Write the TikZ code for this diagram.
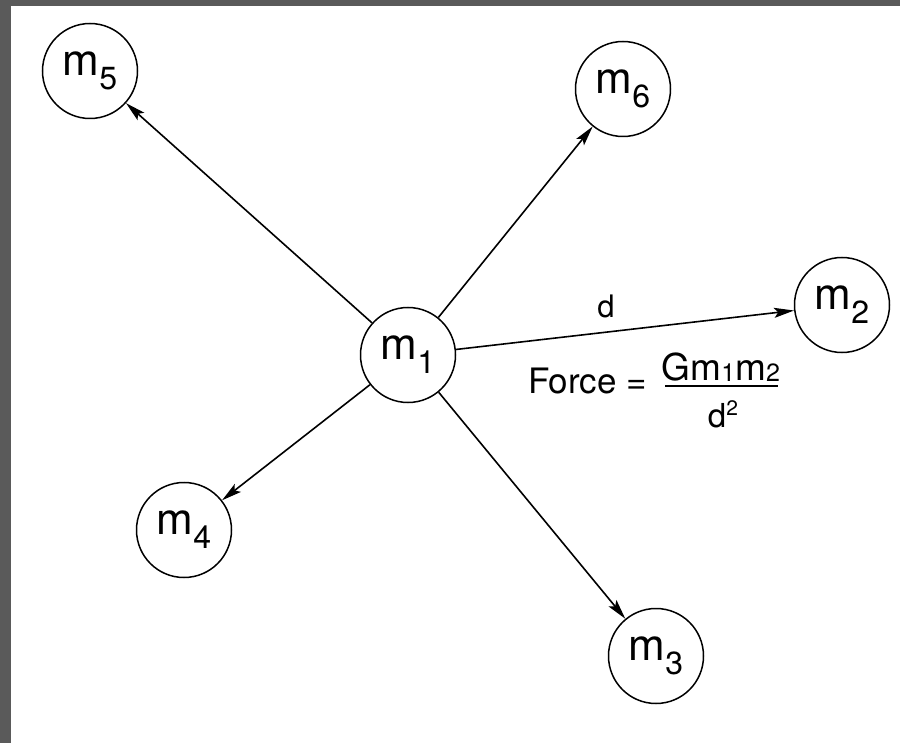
\documentclass[tikz,border=0pt]{standalone}
\usepackage{fontspec}
\setmainfont{TeX Gyre Heros}
\usetikzlibrary{arrows.meta}
\definecolor{frameGray}{RGB}{90,90,90}
% mass label: letter m with a lowered digit
\newcommand\masslbl[1]{m\raisebox{-14pt}{\fontsize{32}{32}\selectfont #1}}
\newcommand\fsub[1]{\raisebox{-1pt}{\fontsize{25}{25}\selectfont #1}}
\tikzset{
  mass/.style={circle, draw, line width=1.5pt, minimum size=95pt, inner sep=0pt,
    font=\fontsize{44}{44}\selectfont},
  pull/.style={line width=1.6pt, -{Stealth[length=20pt,width=10pt,inset=4pt]}},
  lbl/.style={inner sep=0pt, font=\fontsize{35}{35}\selectfont},
  fracbar/.style={line width=1.6pt}
}
\begin{document}
\begin{tikzpicture}[x=1pt,y=-1pt]
  % page and frame strips
  \fill[white] (0,0) rectangle (900,743);
  \fill[frameGray] (0,0) rectangle (11,743);
  \fill[frameGray] (0,0) rectangle (900,6);
  \useasboundingbox (0,0) rectangle (900,743);

  % masses
  \node[mass] (m1) at (408,355) {\masslbl{1}};
  \node[mass] (m2) at (842,305) {\masslbl{2}};
  \node[mass] (m3) at (656,656) {\masslbl{3}};
  \node[mass] (m4) at (184,530) {\masslbl{4}};
  \node[mass] (m5) at (90,71)   {\masslbl{5}};
  \node[mass] (m6) at (623,89)  {\masslbl{6}};

  % forces from m1
  \foreach \k in {2,3,4,5,6} \draw[pull] (m1) -- (m\k);

  % distance label
  \node[inner sep=0pt, anchor=base, font=\fontsize{31}{31}\selectfont] (dist) at (606,318) {d};

  % force law
  \node[lbl, anchor=base west] (force) at (528,393) {Force =};
  \node[lbl, anchor=base, font=\fontsize{37}{37}\selectfont] (num) at (721,381) {Gm\fsub{1}m\fsub{2}};
  \coordinate (barL) at (665,386);
  \coordinate (barR) at (778,386);
  \draw[fracbar] (barL) -- (barR);
  \node[lbl, anchor=base, font=\fontsize{33}{33}\selectfont] (den) at (723,427)
    {d\raisebox{12pt}{\fontsize{21}{21}\selectfont 2}};
\end{tikzpicture}
\end{document}
